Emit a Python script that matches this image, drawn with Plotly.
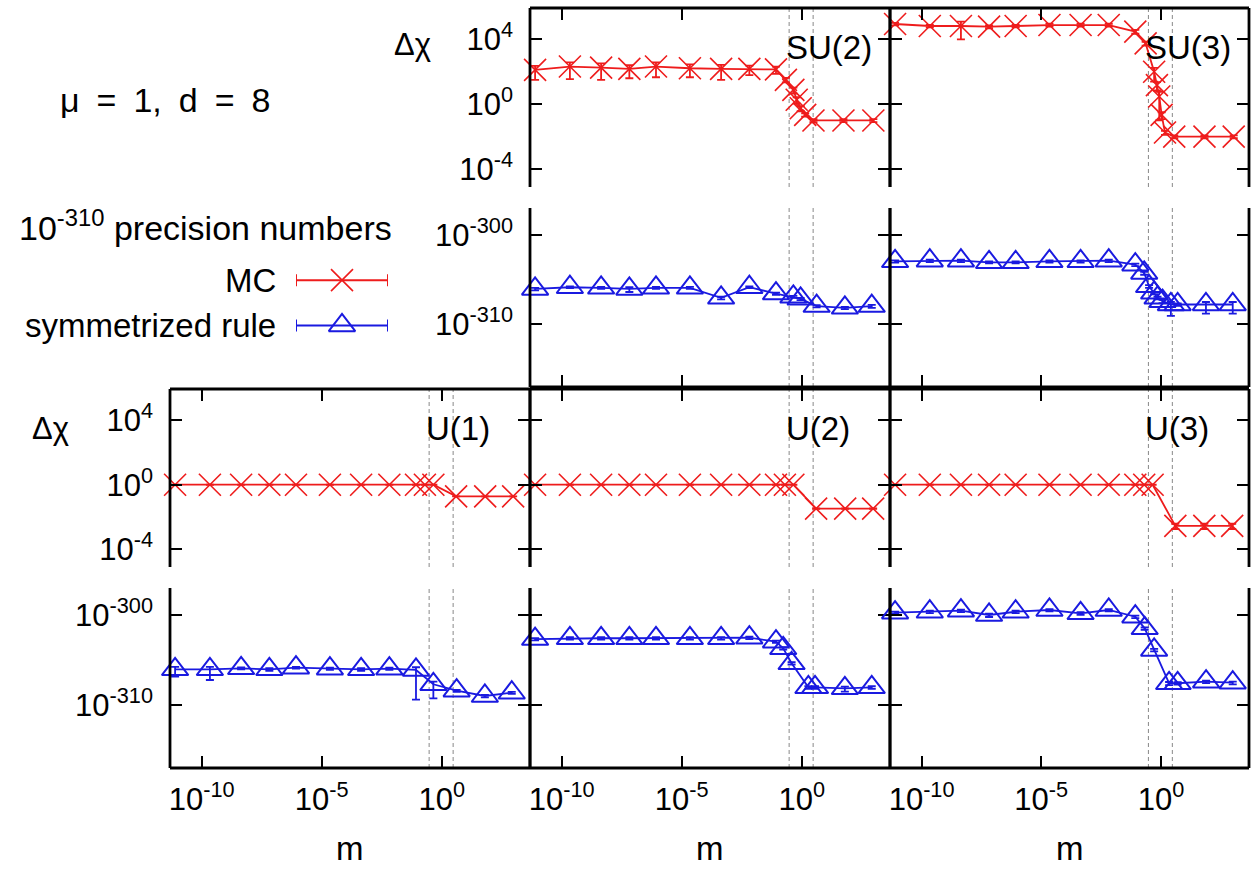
import plotly.graph_objects as go

FONT = "Liberation Sans"
RED = "#ee1c1c"
BLUE = "#1a1ae0"

# ---------------- data ----------------
m_plateau = [7.8e-12, 2.2e-10, 4.4e-9, 6.6e-8, 8.5e-7, 2.2e-5, 4.4e-4, 6.6e-3, 8.5e-2]

# SU(2) Monte Carlo
su2_mc_m = m_plateau + [0.22, 0.45, 0.62, 0.91, 1.4, 3.1, 55, 970]
su2_mc_val = [130, 210, 180, 150, 210, 165, 150, 150, 140, 32, 7.6, 1.9, 0.57, 0.22, 0.10, 0.10, 0.10]
su2_mc_err = [98, 175, 148, 110, 164, 119, 118, 87, 66, 10, 3.0, 0.8, 0.2, 0.05, 0.02, 0.02, 0.02]

# SU(3) Monte Carlo
su3_mc_m = m_plateau + [0.23, 0.52, 0.68, 0.85, 1.07, 1.48, 3.6, 66, 1100]
su3_mc_val = [8.8e4, 6.6e4, 6.6e4, 6.0e4, 6.6e4, 7.6e4, 7.6e4, 7.6e4, 3.0e4, 5.6e3, 100, 15, 3.0, 0.22, 0.018, 0.010, 0.010, 0.010]
su3_mc_err = [1.5e4, 1.2e4, 5.6e4, 1.2e4, 1.2e4, 1.5e4, 1.5e4, 1.5e4, 8e3, 1.5e3, 75, 8, 2.9, 0.1, 0.005, 0.002, 0.002, 0.002]

# U(N) Monte Carlo
u_mc_m = m_plateau + [0.2, 0.45, 4.0, 65, 950]
u1_mc_val = [1.0, 1.0, 1.0, 1.0, 1.0, 1.0, 1.0, 1.0, 1.0, 1.0, 1.0, 0.19, 0.19, 0.19]
u2_mc_val = [1.0, 1.0, 1.0, 1.0, 1.0, 1.0, 1.0, 1.0, 1.0, 1.0, 1.0, 0.033, 0.033, 0.033]
u3_mc_val = [1.0, 1.0, 1.0, 1.0, 1.0, 1.0, 1.0, 1.0, 1.0, 1.0, 1.0, 0.0028, 0.0028, 0.0028]
u_mc_err = [0.02, 0.02, 0.02, 0.02, 0.02, 0.02, 0.02, 0.02, 0.02, 0.02, 0.02, 0.001, 0.001, 0.001]

# SU(2) symmetrized rule (1e-310 precision numbers)
su2_sym_m = m_plateau + [0.45, 0.9, 4.2, 63, 830]
su2_sym_val = [9.1e-307, 1.4e-306, 1.2e-306, 9.1e-307, 1.2e-306, 1.2e-306, 9.1e-308, 1.4e-306,
               2.75e-307, 1.2e-307, 7.1e-308, 1.1e-308, 7.1e-309, 1.1e-308]
su2_sym_err = [3e-307, 3e-307, 3e-307, 5e-307, 3e-307, 3e-307, 3e-308, 3e-307,
               8e-308, 3e-308, 2e-308, 3e-309, 2e-309, 4e-309]

# SU(3) symmetrized rule
su3_sym_m = m_plateau + [0.2, 0.32, 0.52, 0.72, 1.17, 2.6, 5.0, 76, 1000]
su3_sym_val = [1.1e-303, 1.3e-303, 1.3e-303, 8.5e-304, 8.5e-304, 1.1e-303, 1.1e-303, 1.3e-303, 4.7e-304,
               5.5e-305, 1.8e-306, 3.3e-307, 9.1e-308, 3.9e-308, 1.66e-308, 1.66e-308, 1.66e-308, 1.66e-308]
su3_sym_err = [3e-304, 4e-304, 4e-304, 2e-304, 2e-304, 3e-304, 3e-304, 4e-304, 1.5e-304,
               2e-305, 6e-307, 1e-307, 3e-308, 1.5e-308, 1.57e-308, 5e-309, 1.5e-308, 1.5e-308]

# U(1) symmetrized rule
u1_sym_m = m_plateau + [0.45, 4.2, 63, 830]
u1_sym_val = [9.1e-307, 9.1e-307, 1.2e-306, 9.1e-307, 1.4e-306, 1.1e-306, 9.1e-307, 1.1e-306,
              7.8e-307, 2.0e-308, 3.9e-309, 1.0e-309, 2.3e-309]
u1_sym_err = [7.7e-307, 8.5e-307, 3e-307, 3e-307, 3e-307, 3e-307, 3e-307, 3e-307,
              7.796e-307, 1.945e-308, 1e-309, 3e-310, 6e-310]

# U(2) symmetrized rule
u2_sym_m = m_plateau + [0.17, 0.38, 1.9, 3.6, 63, 830]
u2_sym_val = [2.1e-303, 2.6e-303, 2.6e-303, 2.6e-303, 2.6e-303, 2.6e-303, 2.6e-303, 3.0e-303, 1.1e-303,
              2.0e-304, 4.3e-306, 9.1e-309, 9.1e-309, 7.1e-309, 9.1e-309]
u2_sym_err = [6e-304, 8e-304, 8e-304, 8e-304, 8e-304, 8e-304, 8e-304, 9e-304, 3e-304,
              6e-305, 1.3e-306, 3e-309, 3e-309, 4e-309, 3e-309]

# U(3) symmetrized rule
u3_sym_m = m_plateau + [0.21, 0.52, 2.2, 5.0, 77, 1000]
u3_sym_val = [1.8e-300, 2.3e-300, 3.0e-300, 1.0e-300, 2.3e-300, 3.6e-300, 1.55e-300, 3.6e-300, 6.5e-301,
              3.3e-302, 1.3e-304, 2.6e-308, 2.6e-308, 3.9e-308, 3.0e-308]
u3_sym_err = [5e-301, 7e-301, 9e-301, 4e-301, 7e-301, 1e-300, 5e-301, 1e-300, 2e-301,
              1e-302, 4e-305, 1e-308, 8e-309, 1.2e-308, 1e-308]

# vertical dashed reference masses
vline_m = [0.3, 3.0]

# ticks
x_tickvals = [1e-10, 1e-5, 1.0]
x_ticktext = ["10<sup>-10</sup>", "10<sup>-5</sup>", "10<sup>0</sup>"]
mc_tickvals = [1e-4, 1.0, 1e4]
mc_ticktext = ["10<sup>-4</sup>", "10<sup>0</sup>", "10<sup>4</sup>"]
sym_tickvals = [1e-310, 1e-300]
sym_ticktext = ["10<sup>-310</sup>", "10<sup>-300</sup>"]

panel_labels = {(1, 2): "SU(2)", (1, 3): "SU(3)", (3, 1): "U(1)", (3, 2): "U(2)", (3, 3): "U(3)"}

# (row, col, kind, m, values, errors)
panels = [
    (1, 2, "mc", su2_mc_m, su2_mc_val, su2_mc_err),
    (1, 3, "mc", su3_mc_m, su3_mc_val, su3_mc_err),
    (2, 2, "sym", su2_sym_m, su2_sym_val, su2_sym_err),
    (2, 3, "sym", su3_sym_m, su3_sym_val, su3_sym_err),
    (3, 1, "mc", u_mc_m, u1_mc_val, u_mc_err),
    (3, 2, "mc", u_mc_m, u2_mc_val, u_mc_err),
    (3, 3, "mc", u_mc_m, u3_mc_val, u_mc_err),
    (4, 1, "sym", u1_sym_m, u1_sym_val, u1_sym_err),
    (4, 2, "sym", u2_sym_m, u2_sym_val, u2_sym_err),
    (4, 3, "sym", u3_sym_m, u3_sym_val, u3_sym_err),
]

# ---------------- layout geometry ----------------
W, H = 1256, 870
row_px = {1: (8, 187), 2: (208, 387), 3: (389, 567), 4: (588, 768)}
col_px = {1: (170, 530), 2: (530, 890), 3: (890, 1249)}
X_RANGE = [-11.32, 3.68]
MC_RANGE = [-5.1, 5.93]
SYM_RANGE = [-317.0, -297.0]
BORDER_W = 2.8


def ydom(r):
    a, b = row_px[r]
    return [1 - b / H, 1 - a / H]


def xdom(c):
    a, b = col_px[c]
    return [a / W, b / W]


def ax_names(i):
    s = "" if i == 1 else str(i)
    return "x" + s, "y" + s, "xaxis" + s, "yaxis" + s


fig = go.Figure()
layout = {}
shapes = []
annotations = []
tickfont = dict(family=FONT, size=31, color="black")

for i, (r, c, kind, m, val, err) in enumerate(panels, start=1):
    xn, yn, xk, yk = ax_names(i)
    is_mc = kind == "mc"
    layout[xk] = dict(
        type="log", range=X_RANGE, domain=xdom(c), anchor=yn,
        side="top" if r in (1, 3) else "bottom",
        showline=False, mirror=False,
        ticks="inside", ticklen=12, tickwidth=1.5, tickcolor="black",
        tickmode="array", tickvals=x_tickvals, ticktext=x_ticktext,
        showticklabels=(r == 4), ticklabelstandoff=10,
        showgrid=False, zeroline=False, tickfont=tickfont,
    )
    layout[yk] = dict(
        type="log", range=MC_RANGE if is_mc else SYM_RANGE, domain=ydom(r), anchor=xn,
        showline=False, mirror="ticks",
        ticks="inside", ticklen=12, tickwidth=1.5, tickcolor="black",
        tickmode="array",
        tickvals=mc_tickvals if is_mc else sym_tickvals,
        ticktext=mc_ticktext if is_mc else sym_ticktext,
        showticklabels=((r, c) in [(1, 2), (2, 2), (3, 1), (4, 1)]),
        ticklabelstandoff=16,
        showgrid=False, zeroline=False, tickfont=tickfont,
    )
    color = RED if is_mc else BLUE
    marker = (dict(symbol="x-thin", size=22, color=color, line=dict(color=color, width=1.6))
              if is_mc else
              dict(symbol="triangle-up-open", size=23, color=color, line=dict(color=color, width=2)))
    fig.add_trace(go.Scatter(
        x=m, y=val, xaxis=xn, yaxis=yn, mode="lines+markers",
        line=dict(color=color, width=1.8), marker=marker, cliponaxis=False,
        error_y=dict(type="data", array=err, visible=True, color=color, thickness=1.8, width=4),
        showlegend=False, hoverinfo="skip",
    ))
    for vm in vline_m:
        shapes.append(dict(type="line", xref=xn, yref=f"{yn} domain",
                           x0=vm, x1=vm, y0=0, y1=1,
                           line=dict(color="#888888", width=1, dash="4px,3px"), layer="below"))
    # panel frame: left/right always, top for rows 1 & 3, bottom for rows 2 & 4
    bl = dict(color="black", width=BORDER_W)
    for xe in (0, 1):
        shapes.append(dict(type="line", xref=f"{xn} domain", yref=f"{yn} domain",
                           x0=xe, x1=xe, y0=0, y1=1, line=bl))
    ye = 1 if r in (1, 3) else 0
    shapes.append(dict(type="line", xref=f"{xn} domain", yref=f"{yn} domain",
                       x0=0, x1=1, y0=ye, y1=ye, line=bl))
    if (r, c) in panel_labels:
        annotations.append(dict(text=panel_labels[(r, c)], xref=f"{xn} domain", yref=f"{yn} domain",
                                x=0.705, y=0.78, xanchor="left", yanchor="middle", showarrow=False,
                                font=dict(family=FONT, size=33, color="black")))

# ---------------- custom legend (hidden axes) ----------------
lx, ly_, lxk, lyk = ax_names(len(panels) + 1)
layout[lxk] = dict(domain=[296 / W, 388 / W], range=[0, 1], visible=False, anchor=ly_)
layout[lyk] = dict(domain=[0.60, 0.72], range=[0.60, 0.72], visible=False, anchor=lx)
legend_rows = [("MC", RED, dict(symbol="x-thin", size=22, color=RED, line=dict(color=RED, width=1.6)), 0.678),
               ("symmetrized rule", BLUE,
                dict(symbol="triangle-up-open", size=23, color=BLUE, line=dict(color=BLUE, width=2)), 0.626)]
for name, color, mk, ly in legend_rows:
    fig.add_trace(go.Scatter(
        x=[0.5], y=[ly], xaxis=lx, yaxis=ly_, mode="markers", marker=mk,
        error_x=dict(type="constant", value=0.5, color=color, thickness=2, width=6),
        cliponaxis=False, showlegend=False, hoverinfo="skip"))
    annotations.append(dict(text=name, xref="paper", yref="paper", x=278 / W, y=ly,
                            xanchor="right", yanchor="middle", showarrow=False,
                            font=dict(family=FONT, size=33, color="black")))

annotations.append(dict(text="10<sup>-310</sup> precision numbers", xref="paper", yref="paper",
                        x=17 / W, y=1 - 226 / H, xanchor="left", yanchor="middle", showarrow=False,
                        font=dict(family=FONT, size=34, color="black")))
annotations.append(dict(text="μ\u2002=\u20021,\u2002d\u2002=\u20028", xref="paper", yref="paper",
                        x=58 / W, y=1 - 100 / H, xanchor="left", yanchor="middle", showarrow=False,
                        font=dict(family=FONT, size=34, color="black")))
annotations.append(dict(text="Δχ", xref="paper", yref="paper", x=412 / W, y=1 - 45 / H,
                        xanchor="center", yanchor="middle", showarrow=False,
                        font=dict(family=FONT, size=31, color="black")))
annotations.append(dict(text="Δχ", xref="paper", yref="paper", x=50 / W, y=1 - 428 / H,
                        xanchor="center", yanchor="middle", showarrow=False,
                        font=dict(family=FONT, size=31, color="black")))
for c in (1, 2, 3):
    a, b = col_px[c]
    annotations.append(dict(text="m", xref="paper", yref="paper", x=(a + b) / 2 / W, y=0,
                            xanchor="center", yanchor="bottom", yshift=1, showarrow=False,
                            font=dict(family=FONT, size=33, color="black")))

fig.update_layout(
    width=W, height=H, margin=dict(l=0, r=0, t=0, b=0),
    paper_bgcolor="white", plot_bgcolor="rgba(0,0,0,0)", showlegend=False,
    shapes=shapes, annotations=annotations, **layout,
)
fig.write_html("out.html", config={"displayModeBar": False},
               post_script="document.body.style.margin='0';document.body.style.overflow='hidden';")
